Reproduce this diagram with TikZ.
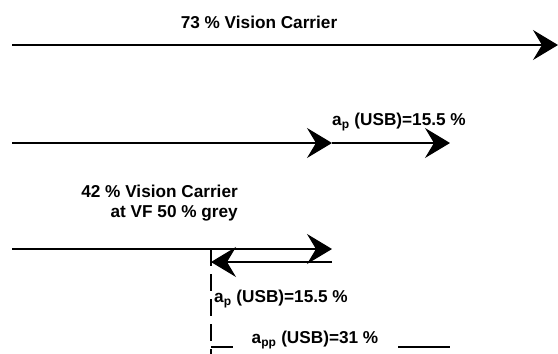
\documentclass[tikz,border=0pt]{standalone}
\usepackage{fontspec}
\setmainfont{Liberation Sans}
\usetikzlibrary{arrows.meta}
\tikzset{>={Stealth[length=25pt,width=30pt,inset=9pt]}}

\begin{document}
\begin{tikzpicture}[x=1pt,y=-1pt,
		carrier/.style={line width=1.8pt},
		lbl/.style={font=\bfseries\fontsize{17.2}{20.5}\selectfont, inner sep=0pt}]
	
	\useasboundingbox (0,0) rectangle (558,354);
	
	% end points of the carriers
	\coordinate (vcS) at (12,45);
	\coordinate (vcE) at (558,45);
	\coordinate (usbS) at (12,143);
	\coordinate (usbM) at (332,143);
	\coordinate (usbE) at (450,143);
	\coordinate (greyS) at (12,249);
	\coordinate (greyE) at (332,249);
	\coordinate (backS) at (332,262);
	\coordinate (backE) at (211,262);
	\coordinate (vfT) at (211,249);
	\coordinate (vfB) at (211,354);
	\coordinate (ppA) at (211,347);
	\coordinate (ppB) at (233,347);
	\coordinate (ppC) at (398,347);
	\coordinate (ppD) at (450,347);
	
	\draw [->, carrier] (vcS) -- (vcE);
	\draw [->, carrier] (usbS) -- (usbM);
	\draw [->, carrier] (usbM) -- (usbE);
	\draw [->, carrier] (greyS) -- (greyE);
	\draw [->, carrier] (backS) -- (backE);
	\draw [line width=2.6pt, dash pattern=on 17pt off 8pt] (vfT) -- (vfB);
	\draw [carrier] (ppA) -- (ppB);
	\draw [carrier] (ppC) -- (ppD);
	
	\node[lbl] (vcText) at (259,22) {73 \% Vision Carrier};
	\node[lbl] (usbText) at (399,122) {a\textsubscript{p} (USB)=15.5 \%};
	\node[lbl, align=right, anchor=east] (greyText) at (238,203) {42 \% Vision Carrier\\at VF 50 \% grey};
	\node[lbl] (backText) at (281,299) {a\textsubscript{p} (USB)=15.5 \%};
	\node[lbl] (ppText) at (315,340) {a\textsubscript{pp} (USB)=31 \%};
	
\end{tikzpicture}
\end{document}
